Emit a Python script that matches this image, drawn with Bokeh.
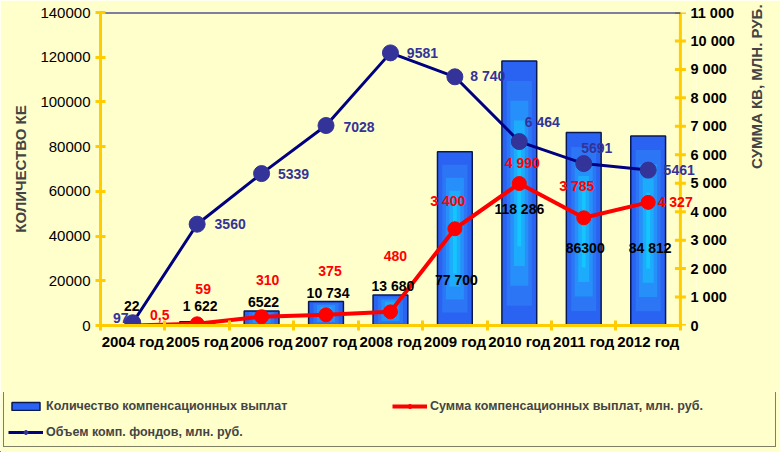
import math
from bokeh.plotting import figure
from bokeh.models import (Range1d, LinearAxis, FixedTicker, Legend, LegendItem, Title,
                          ColumnDataSource, LabelSet)
from bokeh.core.properties import value
from bokeh.embed import file_html
from bokeh.resources import INLINE

# ---------------- data ----------------
years = ["2004 год", "2005 год", "2006 год", "2007 год", "2008 год",
         "2009 год", "2010 год", "2011 год", "2012 год"]
count_ke = [22, 1622, 6522, 10734, 13680, 77700, 118286, 86300, 84812]
count_labels = ["22", "1 622", "6522", "10 734", "13 680", "77 700", "118 286", "86300", "84 812"]
sum_kv = [0.5, 59, 310, 375, 480, 3400, 4990, 3785, 4327]
sum_labels = ["0,5", "59", "310", "375", "480", "3 400", "4 990", "3 785", "4 327"]
fund_vol = [97, 3560, 5339, 7028, 9581, 8740, 6464, 5691, 5461]
fund_labels = ["97", "3560", "5339", "7028", "9581", "8 740", "6 464", "5691", "5461"]
left_ticks = list(range(0, 140001, 20000))
right_ticks = list(range(0, 11001, 1000))
legend_labels = ["Количество компенсационных выплат",
                 "Сумма компенсационных выплат, млн. руб.",
                 "Объем комп. фондов, млн. руб."]

# label offsets (screen px, styling)
count_dx = [-1, 3, 2, 2, 2.5, 1.5, 0, 1.5, 2]
count_dy = [19, 16, 9, 9, 9, -128, -148, -115, -112]
sum_dx = [27, 6, 6, 4, 5, -7, 3, -7, 27]
sum_dy = [10, 35, 37, 44, 56, 28, 21, 32, 0]
fund_dx = [-12, 33, 32, 33, 32, 33, 23, 13, 31]
fund_dy = [5, 0, 0, -1, 0, 1, 20, 16, 0]

BG = "#FFFFCC"
GOLD = "#FFCC00"
FONT = "Liberation Sans"
BAR_STYLE = dict(fill_color="#2A62F2", line_color="#0A1A50", line_width=1.5)
RED_LINE = dict(line_color="#FF0000", line_width=4)
RED_PT = dict(size=14, fill_color="#FF0000", line_color="#FF0000")
BLUE_LINE = dict(line_color="#000080", line_width=3)
BLUE_PT = dict(size=16, fill_color="#333399", line_color="#333399")

n = len(years)
xs = [i + 0.5 for i in range(n)]
x_extra = 0.25  # room right of the last category so edge labels are not cut

p = figure(width=780, height=392, output_backend="svg", toolbar_location=None,
           x_range=Range1d(0, n + x_extra), y_range=Range1d(0, 140000),
           min_border_left=100, min_border_right=84, min_border_top=12,
           min_border_bottom=67)
p.background_fill_color = BG
p.border_fill_color = BG
p.outline_line_color = None
p.grid.visible = False
p.extra_y_ranges = {"right": Range1d(0, 11000)}

# ---- axes ----
xa = p.xaxis[0]
xa.bounds = (0, n)
xa.ticker = FixedTicker(ticks=xs, minor_ticks=list(range(n + 1)))
xa.major_label_overrides = {x: y for x, y in zip(xs, years)}
xa.axis_line_color = GOLD
xa.axis_line_width = 3
xa.major_tick_in = 0
xa.major_tick_out = 0
xa.minor_tick_in = 5
xa.minor_tick_out = 5
xa.minor_tick_line_color = GOLD
xa.minor_tick_line_width = 3
xa.major_label_standoff = 2
xa.major_label_text_font = FONT
xa.major_label_text_font_style = "bold"
xa.major_label_text_font_size = "15px"
xa.major_label_text_color = "black"

ya = p.yaxis[0]
ya.ticker = FixedTicker(ticks=left_ticks)
ya.major_label_overrides = {t: str(t) for t in left_ticks}
ya.axis_line_color = GOLD
ya.axis_line_width = 3
ya.major_tick_line_color = GOLD
ya.major_tick_line_width = 3
ya.major_tick_in = 5
ya.major_tick_out = 5
ya.minor_tick_line_color = None
ya.major_label_standoff = 5
ya.major_label_text_font = FONT
ya.major_label_text_font_size = "15px"
ya.major_label_text_color = "black"
ya.axis_label = "КОЛИЧЕСТВО КЕ"
ya.axis_label_text_font = FONT
ya.axis_label_text_font_style = "bold"
ya.axis_label_text_font_size = "15px"
ya.axis_label_standoff = 8

# right axis: labels from a normal axis, gold line + ticks drawn at the last category edge
ra = LinearAxis(y_range_name="right")
ra.ticker = FixedTicker(ticks=right_ticks)
ra.major_label_overrides = {t: f"{t:,}".replace(",", " ") for t in right_ticks}
ra.axis_line_color = None
ra.major_tick_line_color = None
ra.major_tick_in = 0
ra.major_tick_out = 0
ra.minor_tick_line_color = None
ra.major_label_standoff = -6
ra.major_label_text_font = FONT
ra.major_label_text_font_style = "bold"
ra.major_label_text_font_size = "14.5px"
ra.major_label_text_color = "black"
RTITLE = "СУММА КВ, МЛН. РУБ."
if "axis_label_orientation" in ra.properties():
    ra.axis_label = RTITLE
    ra.axis_label_orientation = math.pi / 2
    ra.axis_label_standoff = 19
    ra.axis_label_text_align = "center"
    ra.axis_label_text_baseline = "middle"
    ra.axis_label_text_font = FONT
    ra.axis_label_text_font_style = "bold"
    ra.axis_label_text_font_size = "15px"
    p.add_layout(ra, "right")
else:
    p.add_layout(ra, "right")
    p.add_layout(Title(text=RTITLE, align="center", text_font=FONT, text_font_style="bold",
                       text_font_size="15px"), "right")

p.segment(x0=[n], x1=[n], y0=[right_ticks[0]], y1=[right_ticks[-1]], y_range_name="right",
          line_color=GOLD, line_width=3)
p.scatter(x=[n] * len(right_ticks), y=right_ticks, y_range_name="right", marker="dash",
          size=11, line_color=GOLD, line_width=3)

# top border of plot area
p.segment(x0=[0], x1=[n], y0=[140000], y1=[140000], line_color="#000066", line_width=2)

# ---- bars (layered to imitate the gradient) ----
src = ColumnDataSource(dict(x=xs, top=count_ke))
p.vbar(x="x", top="top", width=0.54, source=src, **BAR_STYLE)
for k, col in enumerate(["#2E86F8", "#22A4FB", "#16C4FD", "#0CDCFF"]):
    f = 1 - 0.22 * (k + 1)
    lo = 0.5 - 0.5 * (1 - 0.15 * (k + 1))
    hi = 0.5 + 0.5 * (1 - 0.15 * (k + 1))
    p.vbar(x=xs, bottom=[v * lo for v in count_ke], top=[v * hi for v in count_ke],
           width=0.5 * f, fill_color=col, fill_alpha=0.55, line_color=None)

# ---- red line ----
p.line(xs, sum_kv, y_range_name="right", **RED_LINE)
p.scatter(xs, sum_kv, y_range_name="right", **RED_PT)

# ---- blue line ----
p.line(xs, fund_vol, y_range_name="right", **BLUE_LINE)
p.scatter(xs, fund_vol, y_range_name="right", **BLUE_PT)

# ---- data labels ----
def labels(xv, yv, lab, dx, dy, color, rng="default"):
    s = ColumnDataSource(dict(x=xv, y=yv, lab=lab, dx=dx, dy=dy))
    ls = LabelSet(x="x", y="y", text="lab", x_offset="dx", y_offset="dy", source=s,
                  y_range_name=rng, text_align="center", text_baseline="middle",
                  text_font=value(FONT), text_font_style="bold", text_font_size="14px",
                  text_color=color)
    p.add_layout(ls)

labels(xs, count_ke, count_labels, count_dx, count_dy, "black")
labels(xs, sum_kv, sum_labels, sum_dx, sum_dy, "#FF0000", "right")
labels(xs, fund_vol, fund_labels, fund_dx, fund_dy, "#333399", "right")

# ---- legend (own strip below the chart; proxies drawn outside its view) ----
lf = figure(width=780, height=60, output_backend="svg", toolbar_location=None,
            x_range=Range1d(1000, 1001), y_range=Range1d(1e9, 1e9 + 1),
            x_axis_location=None, y_axis_location=None, min_border=0)
lf.background_fill_color = BG
lf.border_fill_color = BG
lf.outline_line_color = None
lf.grid.visible = False
lb = lf.vbar(x=xs, top=count_ke, width=0.54, **BAR_STYLE)
lr1 = lf.line(xs, sum_kv, **RED_LINE)
lr2 = lf.scatter(xs, sum_kv, **RED_PT)
lb1 = lf.line(xs, fund_vol, **BLUE_LINE)
lb2 = lf.scatter(xs, fund_vol, **BLUE_PT)
legend = Legend(items=[
    LegendItem(label=legend_labels[0], renderers=[lb]),
    LegendItem(label=legend_labels[1], renderers=[lr1, lr2]),
    LegendItem(label=legend_labels[2], renderers=[lb1, lb2]),
], location=(3, 5), orientation="horizontal", ncols=2)
legend.background_fill_color = BG
legend.background_fill_alpha = 1
legend.border_line_color = "black"
legend.border_line_width = 1
legend.label_text_font = FONT
legend.label_text_font_style = "bold"
legend.label_text_font_size = "12.5px"
legend.glyph_width = 35
legend.glyph_height = 10
legend.label_height = 21
legend.label_width = 341
legend.label_standoff = 3
legend.spacing = 5
legend.padding = 4
legend.margin = 0
lf.add_layout(legend, "center")

open("out.html", "w").write(file_html([p, lf], INLINE))
